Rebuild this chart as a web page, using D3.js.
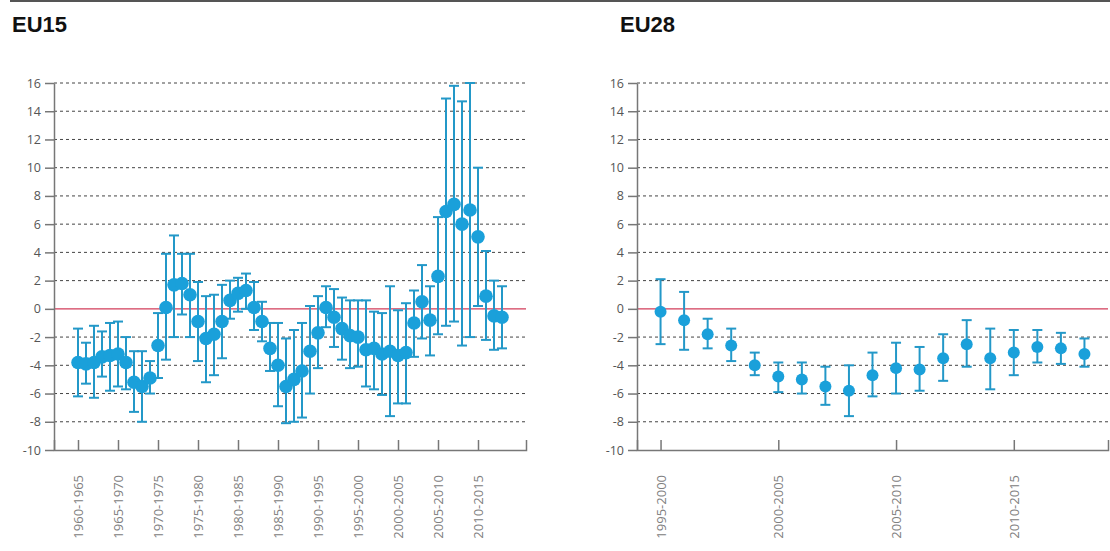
<!DOCTYPE html>
<html>
<head>
<meta charset="utf-8">
<script src="https://cdn.jsdelivr.net/npm/d3@7"></script>
<style>
    body { margin: 0; background: #fff; }
    .title { font-family: "Liberation Sans", Arial, sans-serif; font-weight: bold; font-size: 22px; fill: #111; }
    .yAxis text { font-family: "Open Sans", sans-serif; font-size: 12.5px; fill: #555; }
    .xAxis text { font-family: "Open Sans", sans-serif; font-size: 13px; fill: #808080; }
</style>
</head>
<body>
<div id="chart"></div>
<script>
//DATA: mean value and lower / upper bound of every five year period
const eu15Periods = [
    "1960-1965", "1961-1966", "1962-1967", "1963-1968", "1964-1969",
    "1965-1970", "1966-1971", "1967-1972", "1968-1973", "1969-1974",
    "1970-1975", "1971-1976", "1972-1977", "1973-1978", "1974-1979",
    "1975-1980", "1976-1981", "1977-1982", "1978-1983", "1979-1984",
    "1980-1985", "1981-1986", "1982-1987", "1983-1988", "1984-1989",
    "1985-1990", "1986-1991", "1987-1992", "1988-1993", "1989-1994",
    "1990-1995", "1991-1996", "1992-1997", "1993-1998", "1994-1999",
    "1995-2000", "1996-2001", "1997-2002", "1998-2003", "1999-2004",
    "2000-2005", "2001-2006", "2002-2007", "2003-2008", "2004-2009",
    "2005-2010", "2006-2011", "2007-2012", "2008-2013", "2009-2014",
    "2010-2015", "2011-2016", "2012-2017", "2013-2018"
];
const eu15Mean = [
    -3.8, -3.9, -3.8, -3.4, -3.3, -3.2, -3.8, -5.2, -5.5, -4.9,
    -2.6, 0.1, 1.7, 1.8, 1.0, -0.9, -2.1, -1.8, -0.9, 0.6,
    1.1, 1.3, 0.1, -0.9, -2.8, -4.0, -5.5, -5.0, -4.4, -3.0,
    -1.7, 0.1, -0.6, -1.4, -1.9, -2.0, -2.9, -2.8, -3.2, -3.0,
    -3.3, -3.1, -1.0, 0.5, -0.8, 2.3, 6.9, 7.4, 6.0, 7.0,
    5.1, 0.9, -0.5, -0.6
];
const eu15Low = [
    -6.2, -5.3, -6.3, -4.8, -5.8, -5.5, -5.7, -7.3, -8.0, -6.0,
    -4.9, -3.6, -2.0, -0.4, -2.0, -3.7, -5.2, -4.7, -3.5, -0.7,
    -0.2, 0.0, -1.5, -2.3, -4.4, -6.9, -8.1, -8.0, -7.7, -6.0,
    -4.2, -1.3, -2.7, -3.6, -4.2, -4.1, -5.5, -5.7, -6.1, -7.6,
    -6.7, -6.7, -3.4, -2.1, -3.3, -1.8, -1.2, -0.9, -2.6, -2.0,
    0.2, -2.2, -2.9, -2.8
];
const eu15High = [
    -1.4, -2.4, -1.2, -1.6, -1.0, -0.9, -2.0, -3.0, -3.0, -3.7,
    -0.3, 3.9, 5.2, 3.9, 3.9, 1.9, 0.9, 1.0, 1.7, 2.0,
    2.2, 2.5, 1.9, 0.5, -1.0, -1.0, -2.1, -1.5, -1.0, 0.2,
    0.9, 1.6, 1.4, 0.8, 0.6, 0.6, 0.6, -0.2, -0.3, 1.6,
    -0.1, 0.4, 1.3, 3.1, 1.6, 6.5, 14.9, 15.8, 14.7, 16.0,
    10.0, 4.1, 2.0, 1.6
];
const eu15TickLabels = ["1960-1965", "1965-1970", "1970-1975", "1975-1980", "1980-1985",
    "1985-1990", "1990-1995", "1995-2000", "2000-2005", "2005-2010", "2010-2015"];

const eu28Periods = [
    "1995-2000", "1996-2001", "1997-2002", "1998-2003", "1999-2004",
    "2000-2005", "2001-2006", "2002-2007", "2003-2008", "2004-2009",
    "2005-2010", "2006-2011", "2007-2012", "2008-2013", "2009-2014",
    "2010-2015", "2011-2016", "2012-2017", "2013-2018"
];
const eu28Mean = [-0.2, -0.8, -1.8, -2.6, -4.0, -4.8, -5.0, -5.5, -5.8, -4.7,
    -4.2, -4.3, -3.5, -2.5, -3.5, -3.1, -2.7, -2.8, -3.2];
const eu28Low = [-2.5, -2.9, -2.8, -3.7, -4.7, -5.9, -6.0, -6.8, -7.6, -6.2,
    -6.0, -5.8, -5.1, -4.1, -5.7, -4.7, -3.8, -3.9, -4.1];
const eu28High = [2.1, 1.2, -0.7, -1.4, -3.1, -3.8, -3.8, -4.1, -4.0, -3.1,
    -2.4, -2.7, -1.8, -0.8, -1.4, -1.5, -1.5, -1.7, -2.1];
const eu28TickLabels = ["1995-2000", "2000-2005", "2005-2010", "2010-2015"];

const yTicks = [-10, -8, -6, -4, -2, 0, 2, 4, 6, 8, 10, 12, 14, 16];

//DIMENSIONS
const dimensions = {
    width: 1110,
    height: 551,
    top: 83,
    bottom: 450,
    capWidth: 10,
}

const wrapper = d3.select("#chart").append("svg")
    .attr("width", dimensions.width)
    .attr("height", dimensions.height)

//TOP RULE
wrapper.append("line")
    .attr("x1", 10).attr("x2", dimensions.width)
    .attr("y1", 1).attr("y2", 1)
    .attr("stroke", "#555")
    .attr("stroke-width", 2)

function drawPanel(opts) {
    const data = opts.periods.map((p, i) => ({
        period: p,
        mean: opts.mean[i],
        low: opts.low[i],
        high: opts.high[i]
    }));

    //SCALES
    const xScale = d3.scalePoint()
        .domain(opts.periods)
        .range([opts.left, opts.right])
        .padding(opts.padding);
    const yScale = d3.scaleLinear()
        .domain([-10, 16])
        .range([dimensions.bottom, dimensions.top]);

    const bounds = wrapper.append("g");

    //TITLE
    bounds.append("text")
        .attr("class", "title")
        .attr("x", opts.titleX)
        .attr("y", 32)
        .text(opts.title)

    //GRID
    bounds.append("g")
        .selectAll("line")
        .data(yTicks.filter(d => d != 0 && d != -10))
        .enter()
        .append("line")
        .attr("x1", opts.left)
        .attr("x2", opts.right)
        .attr("y1", d => yScale(d))
        .attr("y2", d => yScale(d))
        .attr("stroke", "#444")
        .attr("stroke-dasharray", "3,3")

    //ZERO LINE
    bounds.append("line")
        .attr("x1", opts.left)
        .attr("x2", opts.right)
        .attr("y1", yScale(0))
        .attr("y2", yScale(0))
        .attr("stroke", "#d23c5a")
        .attr("stroke-width", 1.2)

    //Y AXIS
    const yAxis = bounds.append("g")
        .attr("class", "yAxis")
        .attr("transform", `translate(${opts.left},0)`)
        .call(d3.axisLeft(yScale)
            .tickValues(yTicks)
            .tickSize(9)
            .tickSizeOuter(0)
            .tickPadding(4)
            .tickFormat(d => String(d)))
    yAxis.selectAll("line, path").attr("stroke", "#777").attr("stroke-width", 1.5)

    //X AXIS
    const xAxis = bounds.append("g")
        .attr("class", "xAxis")
        .attr("transform", `translate(0,${dimensions.bottom})`)
        .call(d3.axisBottom(xScale)
            .tickValues(opts.tickLabels)
            .tickSize(-10)
            .tickSizeOuter(-10))
    xAxis.selectAll("line, path").attr("stroke", "#777").attr("stroke-width", 1.5)
    xAxis.selectAll("text")
        .attr("transform", "rotate(-90)")
        .attr("x", -25)
        .attr("y", 0)
        .attr("dy", "0.35em")
        .attr("text-anchor", "end")

    //ERROR BARS
    const bars = bounds.append("g")
        .selectAll("g")
        .data(data)
        .enter()
        .append("g")
        .attr("stroke", "#2398c8")
        .attr("stroke-width", 2)

    bars.append("line")
        .attr("x1", d => xScale(d.period))
        .attr("x2", d => xScale(d.period))
        .attr("y1", d => yScale(d.low))
        .attr("y2", d => yScale(d.high))
    bars.append("line")
        .attr("x1", d => xScale(d.period) - dimensions.capWidth / 2)
        .attr("x2", d => xScale(d.period) + dimensions.capWidth / 2)
        .attr("y1", d => yScale(d.low))
        .attr("y2", d => yScale(d.low))
    bars.append("line")
        .attr("x1", d => xScale(d.period) - dimensions.capWidth / 2)
        .attr("x2", d => xScale(d.period) + dimensions.capWidth / 2)
        .attr("y1", d => yScale(d.high))
        .attr("y2", d => yScale(d.high))

    //POINTS
    bounds.append("g")
        .selectAll("circle")
        .data(data)
        .enter()
        .append("circle")
        .attr("cx", d => xScale(d.period))
        .attr("cy", d => yScale(d.mean))
        .attr("r", opts.radius)
        .attr("fill", "#1aa0da")
}

drawPanel({
    title: "EU15",
    titleX: 12,
    left: 54,
    right: 526,
    padding: 3,
    radius: 6.8,
    periods: eu15Periods,
    mean: eu15Mean,
    low: eu15Low,
    high: eu15High,
    tickLabels: eu15TickLabels
});

drawPanel({
    title: "EU28",
    titleX: 620,
    left: 637,
    right: 1108,
    padding: 1,
    radius: 6,
    periods: eu28Periods,
    mean: eu28Mean,
    low: eu28Low,
    high: eu28High,
    tickLabels: eu28TickLabels
});
</script>
</body>
</html>
